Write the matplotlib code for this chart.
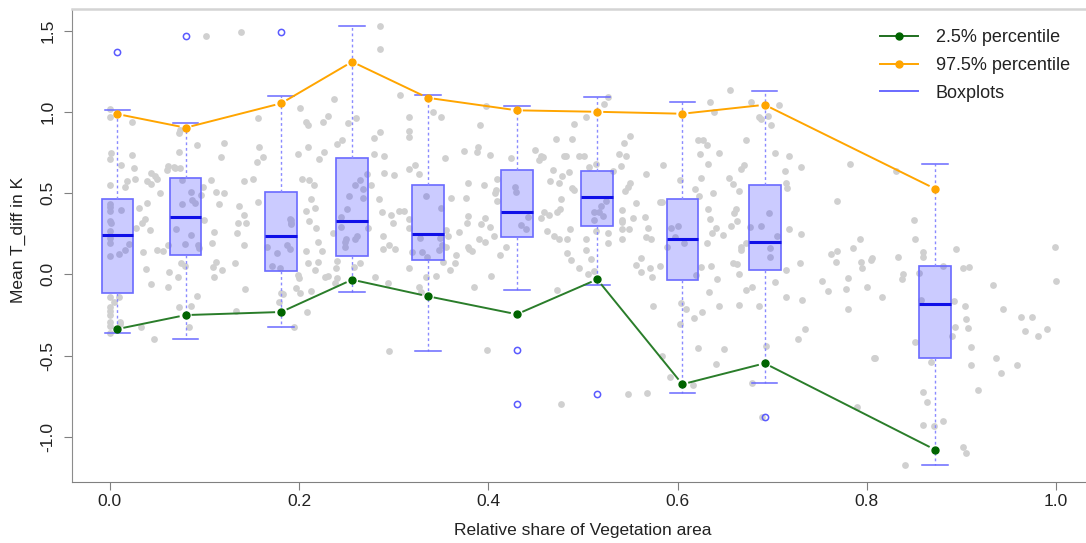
import numpy as np
import matplotlib
matplotlib.use("Agg")
import matplotlib.pyplot as plt
from matplotlib.lines import Line2D

plt.rcParams['font.family'] = ['Liberation Sans', 'DejaVu Sans']

# box positions (relative share of vegetation area) and box statistics
box_pos = [0.008, 0.080, 0.181, 0.256, 0.336, 0.430, 0.515, 0.605, 0.692, 0.872]
box_med = [0.242, 0.355, 0.234, 0.328, 0.250, 0.382, 0.474, 0.219, 0.197, -0.185]
box_q1 = [-0.113, 0.119, 0.018, 0.113, 0.088, 0.230, 0.296, -0.033, 0.025, -0.517]
box_q3 = [0.462, 0.593, 0.505, 0.716, 0.552, 0.640, 0.634, 0.462, 0.552, 0.053]
whis_lo = [-0.361, -0.398, -0.324, -0.108, -0.470, -0.099, -0.064, -0.729, -0.671, -1.172]
whis_hi = [1.013, 0.934, 1.096, 1.529, 1.106, 1.038, 1.090, 1.061, 1.131, 0.677]
outliers = [[1.367], [1.467], [1.492], [], [], [-0.466, -0.800], [-0.737], [], [-0.879], []]

# percentile lines
p025 = [-0.337, -0.251, -0.232, -0.033, -0.135, -0.246, -0.031, -0.677, -0.548, -1.080]
p975 = [0.987, 0.903, 1.053, 1.309, 1.087, 1.010, 1.001, 0.989, 1.044, 0.527]

# individual observations (grey points)
veg_share = [
    0.102, 0.139, 0.000, 0.000, 0.023, 0.074, 0.073, 0.092, 0.121, 0.157, 0.201, 0.207, 0.209, 0.230, 0.225, 0.237,
    0.001, 0.000, 0.023, 0.012, 0.025, 0.000, 0.018, 0.027, 0.016, 0.061, 0.060, 0.068, 0.069, 0.074, 0.044, 0.048,
    0.050, 0.039, 0.044, 0.053, 0.039, 0.031, 0.073, 0.117, 0.107, 0.112, 0.121, 0.115, 0.142, 0.151, 0.158, 0.162,
    0.155, 0.157, 0.136, 0.142, 0.135, 0.144, 0.134, 0.142, 0.199, 0.209, 0.221, 0.226, 0.203, 0.210, 0.216, 0.213,
    0.207, 0.217, 0.190, 0.191, 0.210, 0.218, 0.207, 0.224, 0.220, 0.236, 0.240,
    0.000, 0.000, 0.000, 0.000, 0.001, 0.000, 0.000, 0.000, 0.012, 0.020, 0.016, 0.010, 0.000,
    0.076, 0.086, 0.087, 0.090, 0.076, 0.098, 0.096, 0.099, 0.070, 0.086, 0.079, 0.093, 0.094,
    0.028, 0.037, 0.034, 0.042, 0.035, 0.050, 0.056, 0.061, 0.110, 0.108,
    0.191, 0.191, 0.187, 0.190, 0.166, 0.177,
    0.286, 0.285, 0.307, 0.316, 0.316, 0.316, 0.341, 0.350, 0.391, 0.398, 0.260, 0.252, 0.286, 0.279, 0.245,
    0.279, 0.290, 0.300, 0.290, 0.322, 0.316, 0.327, 0.354, 0.374, 0.389, 0.388, 0.402, 0.379, 0.376, 0.361,
    0.395, 0.409, 0.408, 0.407, 0.409, 0.424, 0.449, 0.456, 0.458, 0.454, 0.468, 0.465, 0.475, 0.478, 0.485,
    0.471, 0.488, 0.491, 0.503, 0.480, 0.482, 0.496, 0.501, 0.506, 0.514, 0.488, 0.491, 0.522, 0.526,
    0.284, 0.288, 0.297, 0.306, 0.311, 0.299, 0.289, 0.295, 0.289, 0.301, 0.316, 0.316, 0.319, 0.355, 0.357,
    0.355, 0.369, 0.366, 0.379, 0.377, 0.396, 0.392, 0.402, 0.406, 0.390, 0.396, 0.379, 0.380, 0.383, 0.419,
    0.412, 0.459, 0.464, 0.456, 0.473, 0.476, 0.477, 0.462, 0.469, 0.475, 0.483, 0.486, 0.483, 0.440, 0.442,
    0.272, 0.264, 0.259, 0.268, 0.268, 0.251, 0.253, 0.244, 0.244, 0.250, 0.249, 0.248, 0.259, 0.261, 0.273, 0.276,
    0.334, 0.350, 0.328, 0.349, 0.351, 0.348, 0.330, 0.335,
    0.428, 0.429, 0.435,
    0.512, 0.517, 0.524, 0.519, 0.521, 0.512, 0.503, 0.514, 0.526, 0.503,
    0.655, 0.634, 0.638, 0.678, 0.707, 0.695, 0.688, 0.686, 0.699, 0.550, 0.543, 0.538, 0.545, 0.540, 0.532,
    0.585, 0.567, 0.550, 0.548, 0.544, 0.556, 0.621, 0.627, 0.631, 0.624, 0.644, 0.632, 0.672, 0.670, 0.667,
    0.703, 0.718, 0.713, 0.715, 0.716, 0.730, 0.602, 0.618, 0.625, 0.623, 0.637, 0.654, 0.658, 0.665, 0.662,
    0.660, 0.663, 0.656, 0.583, 0.581, 0.565, 0.569, 0.567, 0.572, 0.561, 0.553, 0.541, 0.541, 0.541, 0.541,
    0.549, 0.541, 0.526, 0.632, 0.634, 0.641, 0.636, 0.648, 0.631, 0.718, 0.730, 0.768, 0.782, 0.793, 0.785,
    0.768, 0.762,
    0.593, 0.600, 0.597, 0.607, 0.589,
    0.697, 0.688, 0.677, 0.705, 0.698, 0.698, 0.672, 0.667, 0.667,
    0.831, 0.850, 0.851, 0.859, 0.859, 0.833, 0.805, 0.894, 0.999,
    0.000, 0.000, 0.000, 0.000, 0.004, 0.000, 0.000, 0.000, 0.010, 0.011, 0.011,
    0.038, 0.062, 0.072, 0.043, 0.061, 0.033, 0.047,
    0.075, 0.079, 0.092, 0.086, 0.073, 0.084,
    0.109, 0.112, 0.119, 0.110, 0.132, 0.143, 0.133,
    0.171, 0.180, 0.181, 0.183, 0.179, 0.195, 0.199, 0.200, 0.197, 0.201, 0.209, 0.213, 0.220, 0.217, 0.227,
    0.230, 0.208, 0.240, 0.238,
    0.239, 0.264, 0.258, 0.280, 0.294, 0.295, 0.316, 0.327, 0.329, 0.334, 0.345, 0.365, 0.385, 0.403, 0.399,
    0.487, 0.496, 0.505, 0.512, 0.508, 0.473, 0.477, 0.352, 0.359, 0.240,
    0.556, 0.561, 0.571, 0.573, 0.581, 0.574, 0.604, 0.609, 0.603, 0.617, 0.626, 0.619, 0.625, 0.635, 0.642,
    0.633, 0.644, 0.622, 0.641, 0.649, 0.584, 0.592, 0.616, 0.658, 0.663, 0.665, 0.672, 0.679, 0.665, 0.686,
    0.693, 0.703, 0.714, 0.714, 0.731, 0.729, 0.735, 0.727, 0.679, 0.689, 0.753, 0.759, 0.767, 0.780, 0.778,
    0.780, 0.794, 0.795, 0.800, 0.808, 0.790, 0.548, 0.568,
    0.804, 0.816, 0.809, 0.838, 0.837, 0.855, 0.880, 0.902, 0.908, 0.892, 0.904, 0.905, 0.907, 0.893, 0.890,
    0.910, 0.910, 0.851, 0.868, 0.859, 0.863, 0.859, 0.880, 0.871, 0.902, 0.905, 0.840, 0.917, 0.936, 0.942,
    0.959, 0.933, 0.944, 0.963, 0.975, 0.967, 0.981, 0.990, 1.000, 0.857,
]
t_diff = [
    1.468, 1.493, 1.016, 0.967, 0.938, 0.889, 0.868, 0.799, 0.809, 0.963, 1.024, 0.938, 0.922, 0.975, 0.938, 1.078,
    0.749, 0.712, 0.735, 0.671, 0.657, 0.548, 0.577, 0.589, 0.540, 0.669, 0.641, 0.659, 0.653, 0.657, 0.622, 0.606,
    0.589, 0.577, 0.554, 0.499, 0.439, 0.409, 0.751, 0.723, 0.579, 0.507, 0.499, 0.431, 0.575, 0.587, 0.784, 0.721,
    0.694, 0.446, 0.421, 0.363, 0.314, 0.314, 0.253, 0.179, 0.741, 0.784, 0.708, 0.753, 0.585, 0.581, 0.552, 0.462,
    0.392, 0.409, 0.339, 0.314, 0.328, 0.287, 0.146, 0.144, 0.197, 0.253, 0.803,
    0.435, 0.413, 0.388, 0.331, 0.318, 0.269, 0.222, 0.195, 0.394, 0.185, 0.150, 0.123, 0.115,
    0.581, 0.509, 0.458, 0.439, 0.435, 0.536, 0.489, 0.335, 0.277, 0.242, 0.187, 0.179, 0.160,
    0.287, 0.341, 0.318, 0.273, 0.135, 0.150, 0.146, 0.181, 0.259, 0.195,
    0.337, 0.312, 0.181, 0.154, 0.170, 0.129,
    1.527, 1.386, 1.107, 0.967, 0.885, 0.846, 0.998, 0.971, 0.922, 1.037, 0.963, 0.932, 0.875, 0.842, 0.829,
    0.739, 0.729, 0.610, 0.622, 0.673, 0.649, 0.618, 0.716, 0.758, 0.784, 0.751, 0.735, 0.565, 0.472, 0.468,
    0.548, 0.587, 0.517, 0.499, 0.454, 0.719, 0.768, 0.727, 0.721, 0.704, 0.643, 0.577, 0.561, 0.608, 0.628,
    0.836, 0.834, 0.928, 0.971, 0.731, 0.727, 0.731, 0.727, 0.659, 0.678, 0.534, 0.521, 1.047, 1.092,
    0.462, 0.382, 0.365, 0.388, 0.392, 0.316, 0.236, 0.179, 0.156, 0.156, 0.341, 0.287, 0.140, 0.273, 0.234,
    0.170, 0.259, 0.119, 0.359, 0.316, 0.349, 0.312, 0.292, 0.234, 0.218, 0.197, 0.166, 0.154, 0.146, 0.170,
    0.121, 0.382, 0.365, 0.345, 0.384, 0.402, 0.466, 0.265, 0.238, 0.220, 0.133, 0.281, 0.216, 0.279, 0.353,
    0.618, 0.581, 0.550, 0.525, 0.472, 0.400, 0.485, 0.294, 0.351, 0.218, 0.197, 0.166, 0.220, 0.238, 0.283, 0.548,
    0.485, 0.406, 0.222, 0.224, 0.181, 0.150, 0.135, 0.109,
    0.540, 0.509, 0.306,
    0.386, 0.384, 0.450, 0.423, 0.359, 0.335, 0.220, 0.267, 0.255, 0.150,
    1.133, 1.063, 0.998, 1.063, 1.041, 0.975, 0.955, 0.967, 0.922, 0.852, 0.807, 0.739, 0.727, 0.669, 0.638,
    0.675, 0.618, 0.562, 0.540, 0.511, 0.437, 0.825, 0.825, 0.794, 0.741, 0.747, 0.681, 0.825, 0.671, 0.649,
    0.749, 0.727, 0.634, 0.560, 0.530, 0.661, 0.581, 0.525, 0.591, 0.482, 0.499, 0.593, 0.554, 0.513, 0.400,
    0.376, 0.331, 0.298, 0.446, 0.443, 0.351, 0.287, 0.228, 0.220, 0.099, 0.347, 0.398, 0.337, 0.322, 0.277,
    0.277, 0.216, 0.195, 0.400, 0.341, 0.287, 0.253, 0.242, 0.195, 0.277, 0.246, 0.454, 0.680, 0.216, 0.164,
    0.146, 0.125,
    0.283, 0.296, 0.228, 0.193, 0.166,
    0.376, 0.296, 0.292, 0.236, 0.160, 0.109, 0.195, 0.170, 0.148,
    0.638, 0.337, 0.216, 0.140, 0.109, 0.107, 0.099, 0.154, 0.168,
    -0.138, -0.199, -0.224, -0.250, -0.172, -0.291, -0.318, -0.363, -0.138, -0.291, -0.306,
    0.033, 0.012, -0.014, -0.062, -0.076, -0.322, -0.400,
    0.068, 0.053, -0.131, -0.195, -0.199, -0.322,
    0.043, 0.074, 0.027, -0.014, 0.068, -0.090, -0.228,
    0.053, 0.037, -0.113, -0.119, -0.172, -0.322, -0.004, -0.025, -0.086, -0.117, 0.068, -0.103, 0.078, 0.027, -0.014,
    -0.008, -0.234, 0.084, -0.053,
    0.041, 0.068, 0.047, -0.014, -0.055, -0.470, 0.041, -0.076, -0.107, -0.014, -0.008, 0.072, -0.080, -0.008, -0.466,
    0.088, 0.041, 0.000, 0.023, 0.092, -0.096, -0.800, 0.078, 0.027, -0.025,
    0.057, 0.016, 0.037, -0.018, 0.053, -0.195, -0.174, -0.216, -0.304, -0.271, -0.234, -0.004, 0.043, 0.053, -0.031,
    -0.107, -0.195, -0.456, -0.552, -0.462, -0.503, -0.630, -0.679, 0.072, 0.062, 0.002, -0.099, -0.080, -0.189, -0.193,
    -0.441, -0.045, 0.027, -0.142, -0.158, 0.068, -0.335, -0.400, -0.671, -0.876, -0.039, -0.103, 0.076, -0.025, -0.088,
    -0.213, 0.074, 0.041, -0.076, -0.513, -0.819, -0.737, -0.729,
    0.088, -0.142, -0.517, 0.000, -0.031, 0.006, 0.053, 0.037, 0.047, -0.164, -0.193, -0.277, -0.333, -0.326, -0.380,
    -0.445, -0.556, -0.419, -0.538, -0.722, -0.786, -0.926, -0.903, -0.932, -1.065, -1.098, -1.172, -0.712, -0.517, -0.606,
    -0.560, -0.068, -0.211, -0.265, -0.265, -0.347, -0.380, -0.337, -0.041, -0.158,
]

W, H = 1086, 543
fig = plt.figure(figsize=(W / 100, H / 100), dpi=100)
ax = fig.add_axes([72 / W, 1 - 482 / H, (1094 - 72) / W, (482 - 9) / H])
ax.set_xlim(-0.04, 1.04)
ax.set_ylim(-1.279, 1.634)

ax.scatter(veg_share, t_diff, s=24, color='#d0d0d0', linewidths=0, zorder=1)

stats = []
for i in range(len(box_pos)):
    stats.append(dict(med=box_med[i], q1=box_q1[i], q3=box_q3[i],
                      whislo=whis_lo[i], whishi=whis_hi[i], fliers=outliers[i]))
ax.bxp(stats, positions=box_pos, widths=0.0335, patch_artist=True, manage_ticks=False,
       boxprops=dict(facecolor=(0.2, 0.2, 1.0, 0.25), edgecolor='#6a6aff', linewidth=1.2),
       medianprops=dict(color='#1010e8', linewidth=2.2),
       whiskerprops=dict(color='#8a8aff', linewidth=1, linestyle=(0, (2, 2))),
       capprops=dict(color='#6a6aff', linewidth=1.1),
       flierprops=dict(marker='o', markerfacecolor='none', markeredgecolor='#5a5aff',
                       markersize=4.5, markeredgewidth=1.1),
       capwidths=0.027, zorder=2)


def gapped_line(xs, ys, color, gap=7):
    # R type="b": segments stop short of the points
    pts = ax.transData.transform(np.column_stack([xs, ys]))
    inv = ax.transData.inverted()
    for p, q in zip(pts[:-1], pts[1:]):
        d = q - p
        u = d / np.hypot(*d)
        a = inv.transform(p + u * gap)
        b = inv.transform(q - u * gap)
        ax.plot([a[0], b[0]], [a[1], b[1]], color=color, lw=1.4, zorder=3)


gapped_line(box_pos, p025, '#2a7d2a')
ax.plot(box_pos, p025, 'o', color='#006400', ms=5, zorder=4)
gapped_line(box_pos, p975, '#ffa500')
ax.plot(box_pos, p975, 'o', color='#ffa500', ms=5, zorder=4)

ax.spines['right'].set_visible(False)
ax.spines['left'].set_color('#8c8c8c')
ax.spines['bottom'].set_color('#808080')
ax.spines['top'].set_color('#d4d4d4')
ax.spines['top'].set_linewidth(1.8)

ax.set_xticks([0.0, 0.2, 0.4, 0.6, 0.8, 1.0])
ax.set_xticklabels(['0.0', '0.2', '0.4', '0.6', '0.8', '1.0'])
ax.set_yticks([-1.0, -0.5, 0.0, 0.5, 1.0, 1.5])
ax.set_yticklabels(['-1.0', '-0.5', '0.0', '0.5', '1.0', '1.5'], rotation=90, va='center')
ax.tick_params(axis='both', length=6, color='#808080', labelsize=12.5, labelcolor='#222222')
ax.tick_params(axis='x', pad=3)
ax.tick_params(axis='y', pad=6)

fig.text(583 / W, 1 - 530 / H, 'Relative share of Vegetation area', ha='center', va='center',
         fontsize=12.5, color='#222222')
fig.text(18 / W, 1 - 240 / H, 'Mean T_diff in K', ha='center', va='center', rotation=90,
         fontsize=12.5, color='#222222')

handles = [
    Line2D([], [], color='#1f6f1f', marker='o', markerfacecolor='#006400', markeredgecolor='#006400', ms=5, lw=1.4),
    Line2D([], [], color='#ffa500', marker='o', ms=5, lw=1.4),
    Line2D([], [], color='#6a6aff', lw=1.4),
]
leg = fig.legend(handles, ['2.5% percentile', '97.5% percentile', 'Boxplots'],
                 loc='upper left', bbox_to_anchor=(880 / W, 1 - 29 / H), frameon=False,
                 fontsize=13, handlelength=2.1, handletextpad=1.0, labelspacing=0.6,
                 borderpad=0, borderaxespad=0)
for t in leg.get_texts():
    t.set_color('#222222')

fig.savefig('out.png', dpi=100)
